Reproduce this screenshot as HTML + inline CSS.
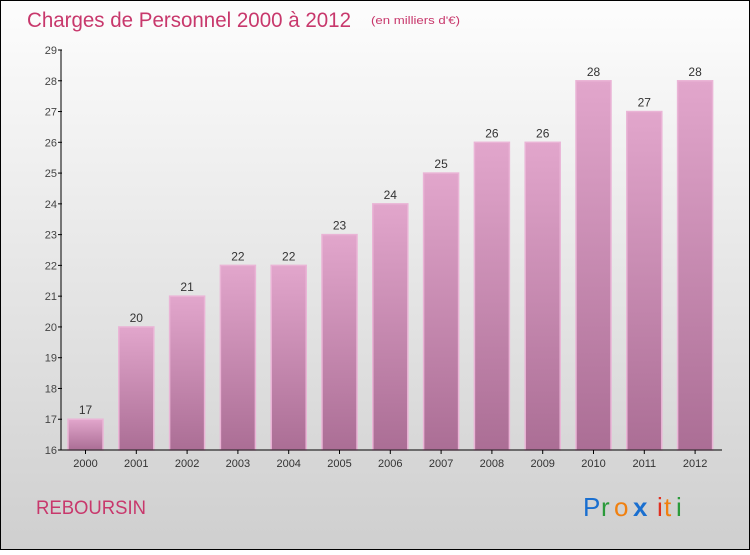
<!DOCTYPE html>
<html><head><meta charset="utf-8"><style>
body{margin:0;width:750px;height:550px;overflow:hidden;font-family:"Liberation Sans",sans-serif}
</style></head><body>
<svg width="750" height="550" xmlns="http://www.w3.org/2000/svg">
<defs>
<linearGradient id="bg" x1="0" y1="0" x2="0" y2="1"><stop offset="0" stop-color="#fdfdfd"/><stop offset="1" stop-color="#cfcfcf"/></linearGradient>
<linearGradient id="bar" x1="0" y1="0" x2="0" y2="1"><stop offset="0" stop-color="#e2a6cc"/><stop offset="1" stop-color="#ab6e95"/></linearGradient>
</defs>
<rect x="0.5" y="0.5" width="749" height="549" fill="url(#bg)" stroke="#000"/>
<text x="27" y="27" font-size="21" fill="#c8386c" textLength="324" lengthAdjust="spacingAndGlyphs">Charges de Personnel 2000 à 2012</text>
<text x="371" y="24" font-size="11" fill="#c8386c" textLength="89" lengthAdjust="spacingAndGlyphs">(en milliers d'€)</text>
<g id="plot"></g>
<text x="36" y="514" font-size="19" fill="#c8386c" textLength="110" lengthAdjust="spacingAndGlyphs">REBOURSIN</text>
<g font-size="26">
<text x="583" y="516" fill="#1a6fd0">P</text><text x="601" y="516" fill="#2a9a3a">r</text><text x="614" y="516" fill="#f08010">o</text><text x="633" y="516" fill="#1a6fd0" font-weight="bold">x</text><text x="657" y="516" fill="#e03020">i</text><text x="664" y="516" fill="#f08010">t</text><text x="676" y="516" fill="#2a9a3a">i</text>
</g>
</svg>
<script>
const years=["2000","2001","2002","2003","2004","2005","2006","2007","2008","2009","2010","2011","2012"];
const values=[17,20,21,22,22,23,24,25,26,26,28,27,28];
const ticks=[16,17,18,19,20,21,22,23,24,25,26,27,28,29];
const NS="http://www.w3.org/2000/svg";
const g=document.getElementById('plot');
const y0=450,y1=50,vmin=16,vmax=29;
const Y=v=>y0-(v-vmin)*(y0-y1)/(vmax-vmin);
const X=i=>85.5+i*50.8;
function mk(t,a,txt){const e=document.createElementNS(NS,t);for(const k in a)e.setAttribute(k,a[k]);if(txt!=null)e.textContent=txt;g.appendChild(e);return e;}
values.forEach((v,i)=>{
 const b=mk('rect',{x:X(i)-17.5,y:Y(v),width:35,height:y0-Y(v),fill:'url(#bar)',stroke:'#eab4d6','stroke-width':1.5});
 
 
 const l=mk('text',{x:X(i),y:Y(v)-5,'font-size':12,fill:'#333','text-anchor':'middle'},String(v));
 
 
 const xl=mk('text',{x:X(i),y:467,'font-size':11,fill:'#333','text-anchor':'middle'},years[i]);
 
 
 const xt=mk('line',{x1:X(i),x2:X(i),y1:450,y2:454,stroke:'#000'});
 
 
});
ticks.forEach(t=>{
 const tl=mk('text',{x:57,y:Y(t)+4,'font-size':11,fill:'#444','text-anchor':'end'},String(t));
 
 
 const tk=mk('line',{x1:58,x2:62,y1:Y(t),y2:Y(t),stroke:'#000'});
 
 
});
const ya=mk('line',{x1:61,x2:61,y1:50,y2:450,stroke:'#000'});


const xa=mk('line',{x1:61,x2:722,y1:450,y2:450,stroke:'#000'});


</script>
</body></html>
